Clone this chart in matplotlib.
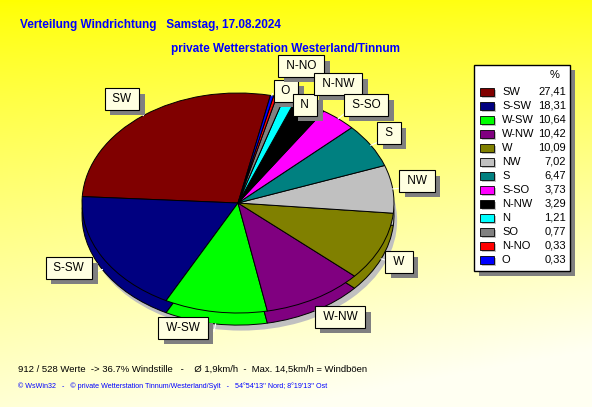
import numpy as np
import matplotlib
matplotlib.use("Agg")
import matplotlib.pyplot as plt
from matplotlib.patches import Rectangle
import matplotlib.patheffects as pe

plt.rcParams['font.family'] = ['Liberation Sans', 'DejaVu Sans']

# Daten (Reihenfolge wie in der Legende)
richtungen = ['SW', 'S-SW', 'W-SW', 'W-NW', 'W', 'NW', 'S', 'S-SO', 'N-NW', 'N', 'SO', 'N-NO', 'O']
anteile = [27.41, 18.31, 10.64, 10.42, 10.09, 7.02, 6.47, 3.73, 3.29, 1.21, 0.77, 0.33, 0.33]
farben = ['#800000', '#000080', '#00FF00', '#800080', '#808000', '#C0C0C0', '#008080',
          '#FF00FF', '#000000', '#00FFFF', '#808080', '#FF0000', '#0000FF']
werte_text = ['27,41', '18,31', '10,64', '10,42', '10,09', '7,02', '6,47',
              '3,73', '3,29', '1,21', '0,77', '0,33', '0,33']

titel1 = "Verteilung Windrichtung   Samstag, 17.08.2024"
titel2 = "private Wetterstation Westerland/Tinnum"
fuss1 = "912 / 528 Werte  -> 36.7% Windstille   -    \u00d8 1,9km/h  -  Max. 14,5km/h = Windb\u00f6en"
fuss2 = "\u00a9 WsWin32   -   \u00a9 private Wetterstation Tinnum/Westerland/Sylt   -   54\u00b054'13'' Nord; 8\u00b019'13'' Ost"

# Beschriftungs-Positionen (Pixel)
label_pos = {'SW': (122, 99), 'S-SW': (69, 268), 'W-SW': (183, 328), 'W-NW': (340, 317),
             'W': (399, 262), 'NW': (417, 181), 'S': (389, 133), 'S-SO': (366, 105),
             'N-NW': (338, 84), 'N': (305, 105), 'SO': None, 'N-NO': (301, 66), 'O': (286, 91)}

W, H = 592, 407
fig = plt.figure(figsize=(W / 100, H / 100), dpi=100)

# Hintergrund-Verlauf
bg = fig.add_axes([0, 0, 1, 1])
yy, xx = np.mgrid[0:1:200j, 0:1:300j]
t = np.clip(0.85 * yy + 0.25 * xx * yy + 0.05 * xx, 0, 1)
img = np.dstack([np.ones_like(t), np.ones_like(t), 0.95 * t ** 0.8])
bg.imshow(img, extent=[0, 1, 1, 0], aspect='auto')
bg.set_xlim(0, 1)
bg.set_ylim(1, 0)
bg.axis('off')

# Torte (3D-Effekt)
depth = 0.11
cx0, cy_top, rx, ry = 82, 93, 312, 220
ax = fig.add_axes([cx0 / W, 1 - (cy_top + ry / 2 * (2 + depth + 0.08)) / H,
                   rx / W * 2.08 / 2, ry / 2 * (2 + depth + 0.08) / H])
start = 78
# Schatten
ax.pie([1], colors=['#C0C0C0'], center=(0.02, -depth - 0.05), radius=1,
       wedgeprops=dict(linewidth=0))
ax.pie(anteile, colors=farben, startangle=start, counterclock=True,
       center=(0, -depth), wedgeprops=dict(edgecolor='black', linewidth=0.7))
ax.pie(anteile, colors=farben, startangle=start, counterclock=True,
       center=(0, 0), wedgeprops=dict(edgecolor='black', linewidth=0.7))
ax.set_aspect('auto')
ax.set_xlim(-1, 1.08)
ax.set_ylim(-1 - depth - 0.08, 1)
ax.axis('off')

# Hilfslinien (weiss)
cum = np.cumsum([0] + anteile)
for i, name in enumerate(richtungen):
    if label_pos[name] is None:
        continue
    mid = np.deg2rad(start + (cum[i] + cum[i + 1]) / 2 / 100 * 360)
    off = -depth if np.sin(mid) < 0 else 0
    ax.plot([np.cos(mid) * 1.0, np.cos(mid) * 1.07],
            [np.sin(mid) * 1.0 + off, np.sin(mid) * 1.07 + off],
            color='white', lw=0.8, zorder=5)

# Overlay in Pixelkoordinaten
ov = fig.add_axes([0, 0, 1, 1])
ov.set_xlim(0, W)
ov.set_ylim(H, 0)
ov.axis('off')
ov.patch.set_alpha(0)

ov.text(20, 25, titel1, color='#0000FF', fontsize=8.5, fontweight='bold', va='center')
ov.text(171, 49, titel2, color='#0000FF', fontsize=8.5, fontweight='bold', va='center')
ov.text(18, 369, fuss1, color='black', fontsize=6.8, va='center')
ov.text(18, 386, fuss2, color='#0000FF', fontsize=5.1, va='center')

for name in reversed(richtungen):
    p = label_pos[name]
    if p is None:
        continue
    t = ov.text(p[0], p[1], ' ' + name + ' ', fontsize=8.5, color='black', ha='center', va='center',
                bbox=dict(boxstyle='square,pad=0.4', fc='#FFFFE1', ec='black', lw=0.8))
    t.get_bbox_patch().set_path_effects([
        pe.SimplePatchShadow(offset=(4, -4), shadow_rgbFace='#808080', alpha=1.0),
        pe.Normal()])

# Legende
lx, ly, lw_, lh = 474, 65, 96, 206
ov.add_patch(Rectangle((lx + 5, ly + 5), lw_, lh, fc='#808080', ec='none'))
ov.add_patch(Rectangle((lx, ly), lw_, lh, fc='white', ec='black', lw=1))
ov.text(555, 75, '%', fontsize=8, ha='center', va='center')
for i, name in enumerate(richtungen):
    y = 92 + i * 14.0
    ov.add_patch(Rectangle((482, y - 2), 14, 8, fc='#C0C0C0', ec='none'))
    ov.add_patch(Rectangle((480, y - 4), 14, 8, fc=farben[i], ec='black', lw=0.6))
    ov.text(502, y, name, fontsize=8, va='center')
    ov.text(566, y, werte_text[i], fontsize=8, va='center', ha='right')

fig.savefig('out.png', dpi=100)
